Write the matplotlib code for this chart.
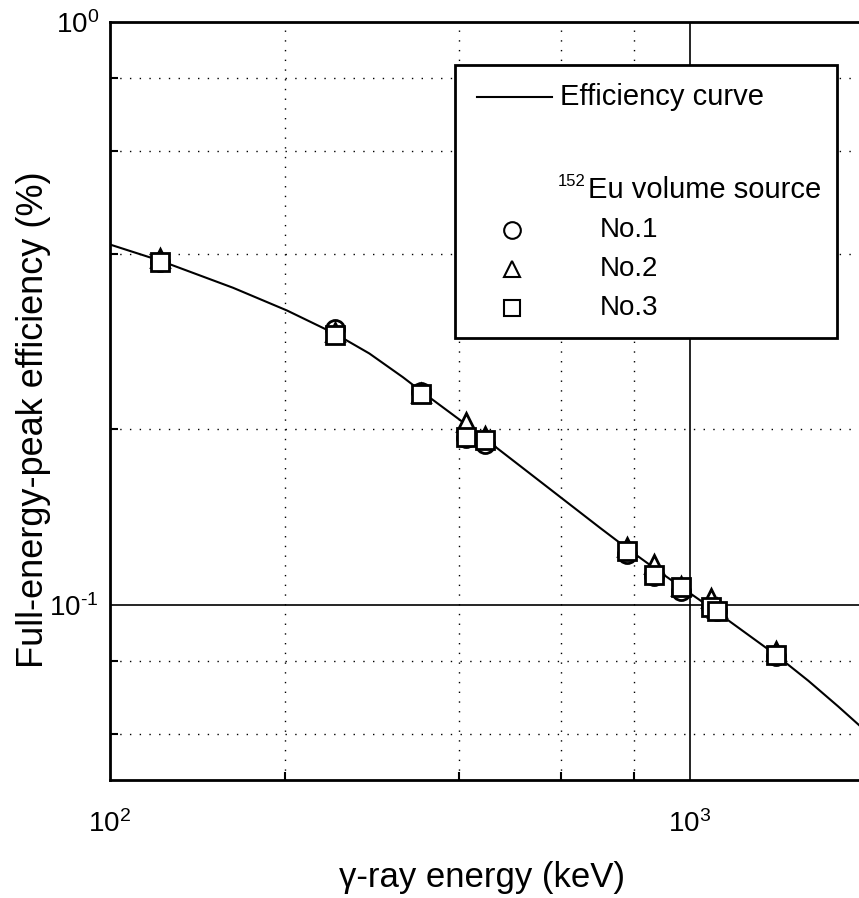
import matplotlib
matplotlib.use('Agg')
import numpy as np
import matplotlib.pyplot as plt
from matplotlib.ticker import LogLocator, NullFormatter, FuncFormatter
from matplotlib.patches import Rectangle

# gamma lines of the 152Eu volume sources (keV)
energy = [121.8, 244.7, 344.3, 411.1, 444.0, 778.9, 867.4, 964.1, 1085.8, 1112.1, 1408.0]

# measured full-energy-peak efficiency (%) for each source
eff_no1 = [0.388, 0.297, 0.232, 0.193, 0.189, 0.122, 0.112, 0.1055, 0.099, 0.0975, 0.0815]
eff_no2 = [0.394, 0.294, 0.231, 0.206, 0.195, 0.1255, 0.1175, 0.1078, 0.1028, 0.0985, 0.0832]
eff_no3 = [0.387, 0.290, 0.2298, 0.194, 0.1918, 0.1238, 0.1123, 0.1073, 0.0992, 0.0977, 0.0818]

# fitted efficiency curve
curve_energy = [100, 122, 163, 202, 245, 280, 320, 345, 411, 444, 500, 602, 700, 779,
                867, 964, 1100, 1408, 1600, 1800, 2000]
curve_eff = [0.4150, 0.3894, 0.3498, 0.3197, 0.2913, 0.2698, 0.2456, 0.2319, 0.2038, 0.1923,
             0.1755, 0.1521, 0.1354, 0.1249, 0.1156, 0.1073, 0.0979, 0.0819, 0.0740, 0.0669,
             0.0609]

plt.rcParams['font.family'] = ['Liberation Sans', 'DejaVu Sans']
plt.rcParams['mathtext.fontset'] = 'custom'
plt.rcParams['mathtext.rm'] = 'Liberation Sans'
plt.rcParams['mathtext.it'] = 'Liberation Sans:italic'
plt.rcParams['mathtext.default'] = 'regular'


def decade_label(v, pos):
    e = int(round(np.log10(v)))
    return r'$10^{\text{%d}}$' % e


fig = plt.figure(figsize=(8.59, 8.98), dpi=100)
ax = fig.add_axes([110 / 859, 118 / 898, 754.6 / 859, 758 / 898])
ax.set_xscale('log')
ax.set_yscale('log')
ax.set_xlim(100, 2000)
ax.set_ylim(0.05, 1.0)

# grid: solid at decades, dotted at 2,4,6,8
ax.xaxis.set_minor_locator(LogLocator(base=10, subs=(2, 4, 6, 8)))
ax.yaxis.set_minor_locator(LogLocator(base=10, subs=(2, 4, 6, 8)))
ax.xaxis.set_minor_formatter(NullFormatter())
ax.yaxis.set_minor_formatter(NullFormatter())
ax.xaxis.set_major_formatter(FuncFormatter(decade_label))
ax.yaxis.set_major_formatter(FuncFormatter(decade_label))
ax.grid(which='major', color='k', lw=1.2, ls='-')
ax.grid(which='minor', color='k', lw=1.0, ls=(0, (1, 6)))
ax.set_axisbelow(True)

ax.tick_params(which='major', direction='in', length=0, labelsize=20)
ax.tick_params(axis='x', which='major', pad=22)
ax.tick_params(axis='y', which='major', pad=8)
ax.tick_params(which='minor', direction='in', length=6, width=1.5)
for sp in ax.spines.values():
    sp.set_linewidth(2)

ax.plot(curve_energy, curve_eff, color='k', lw=1.5, zorder=3)

mk = dict(ls='none', ms=13, mew=2, mfc='white', mec='k')
ax.plot(energy, eff_no1, marker='o', zorder=4, **mk)
ax.plot(energy, eff_no2, marker='^', zorder=5, **mk)
ax.plot(energy, eff_no3, marker='s', zorder=6, **mk)

# legend box
tr = ax.transAxes
ax.add_patch(Rectangle((0.4572, 0.5831), 0.5062, 0.3602, transform=tr,
                       facecolor='white', edgecolor='k', lw=2, zorder=10))
ax.plot([0.4864, 0.5857], [0.9011, 0.9011], transform=tr, color='k', lw=1.5, zorder=11)
ax.text(0.5963, 0.9011, 'Efficiency curve', transform=tr, fontsize=21,
        va='center', ha='left', zorder=11)
ax.text(0.5937, 0.790, '152', transform=tr, fontsize=12, va='center', ha='left', zorder=11)
ax.text(0.6334, 0.7784, 'Eu volume source', transform=tr, fontsize=21,
        va='center', ha='left', zorder=11)
lmk = dict(ls='none', ms=12, mew=1.5, mfc='white', mec='k', transform=tr, zorder=11)
rows = [(0.7256, 'o', 'No.1'), (0.6741, '^', 'No.2'), (0.6227, 's', 'No.3')]
for y, m, lab in rows:
    ax.plot([0.5327], [y], marker=m, **lmk)
    ax.text(0.6493, y, lab, transform=tr, fontsize=20, va='center', ha='left', zorder=11)

ax.set_xlabel('\u03b3-ray energy (keV)', fontsize=25, va='center')
ax.xaxis.set_label_coords(0.493, -0.128)
ax.set_ylabel('Full-energy-peak efficiency (%)', fontsize=26, va='center')
ax.yaxis.set_label_coords(-0.102, 0.475)

fig.savefig('out.png', dpi=100)
